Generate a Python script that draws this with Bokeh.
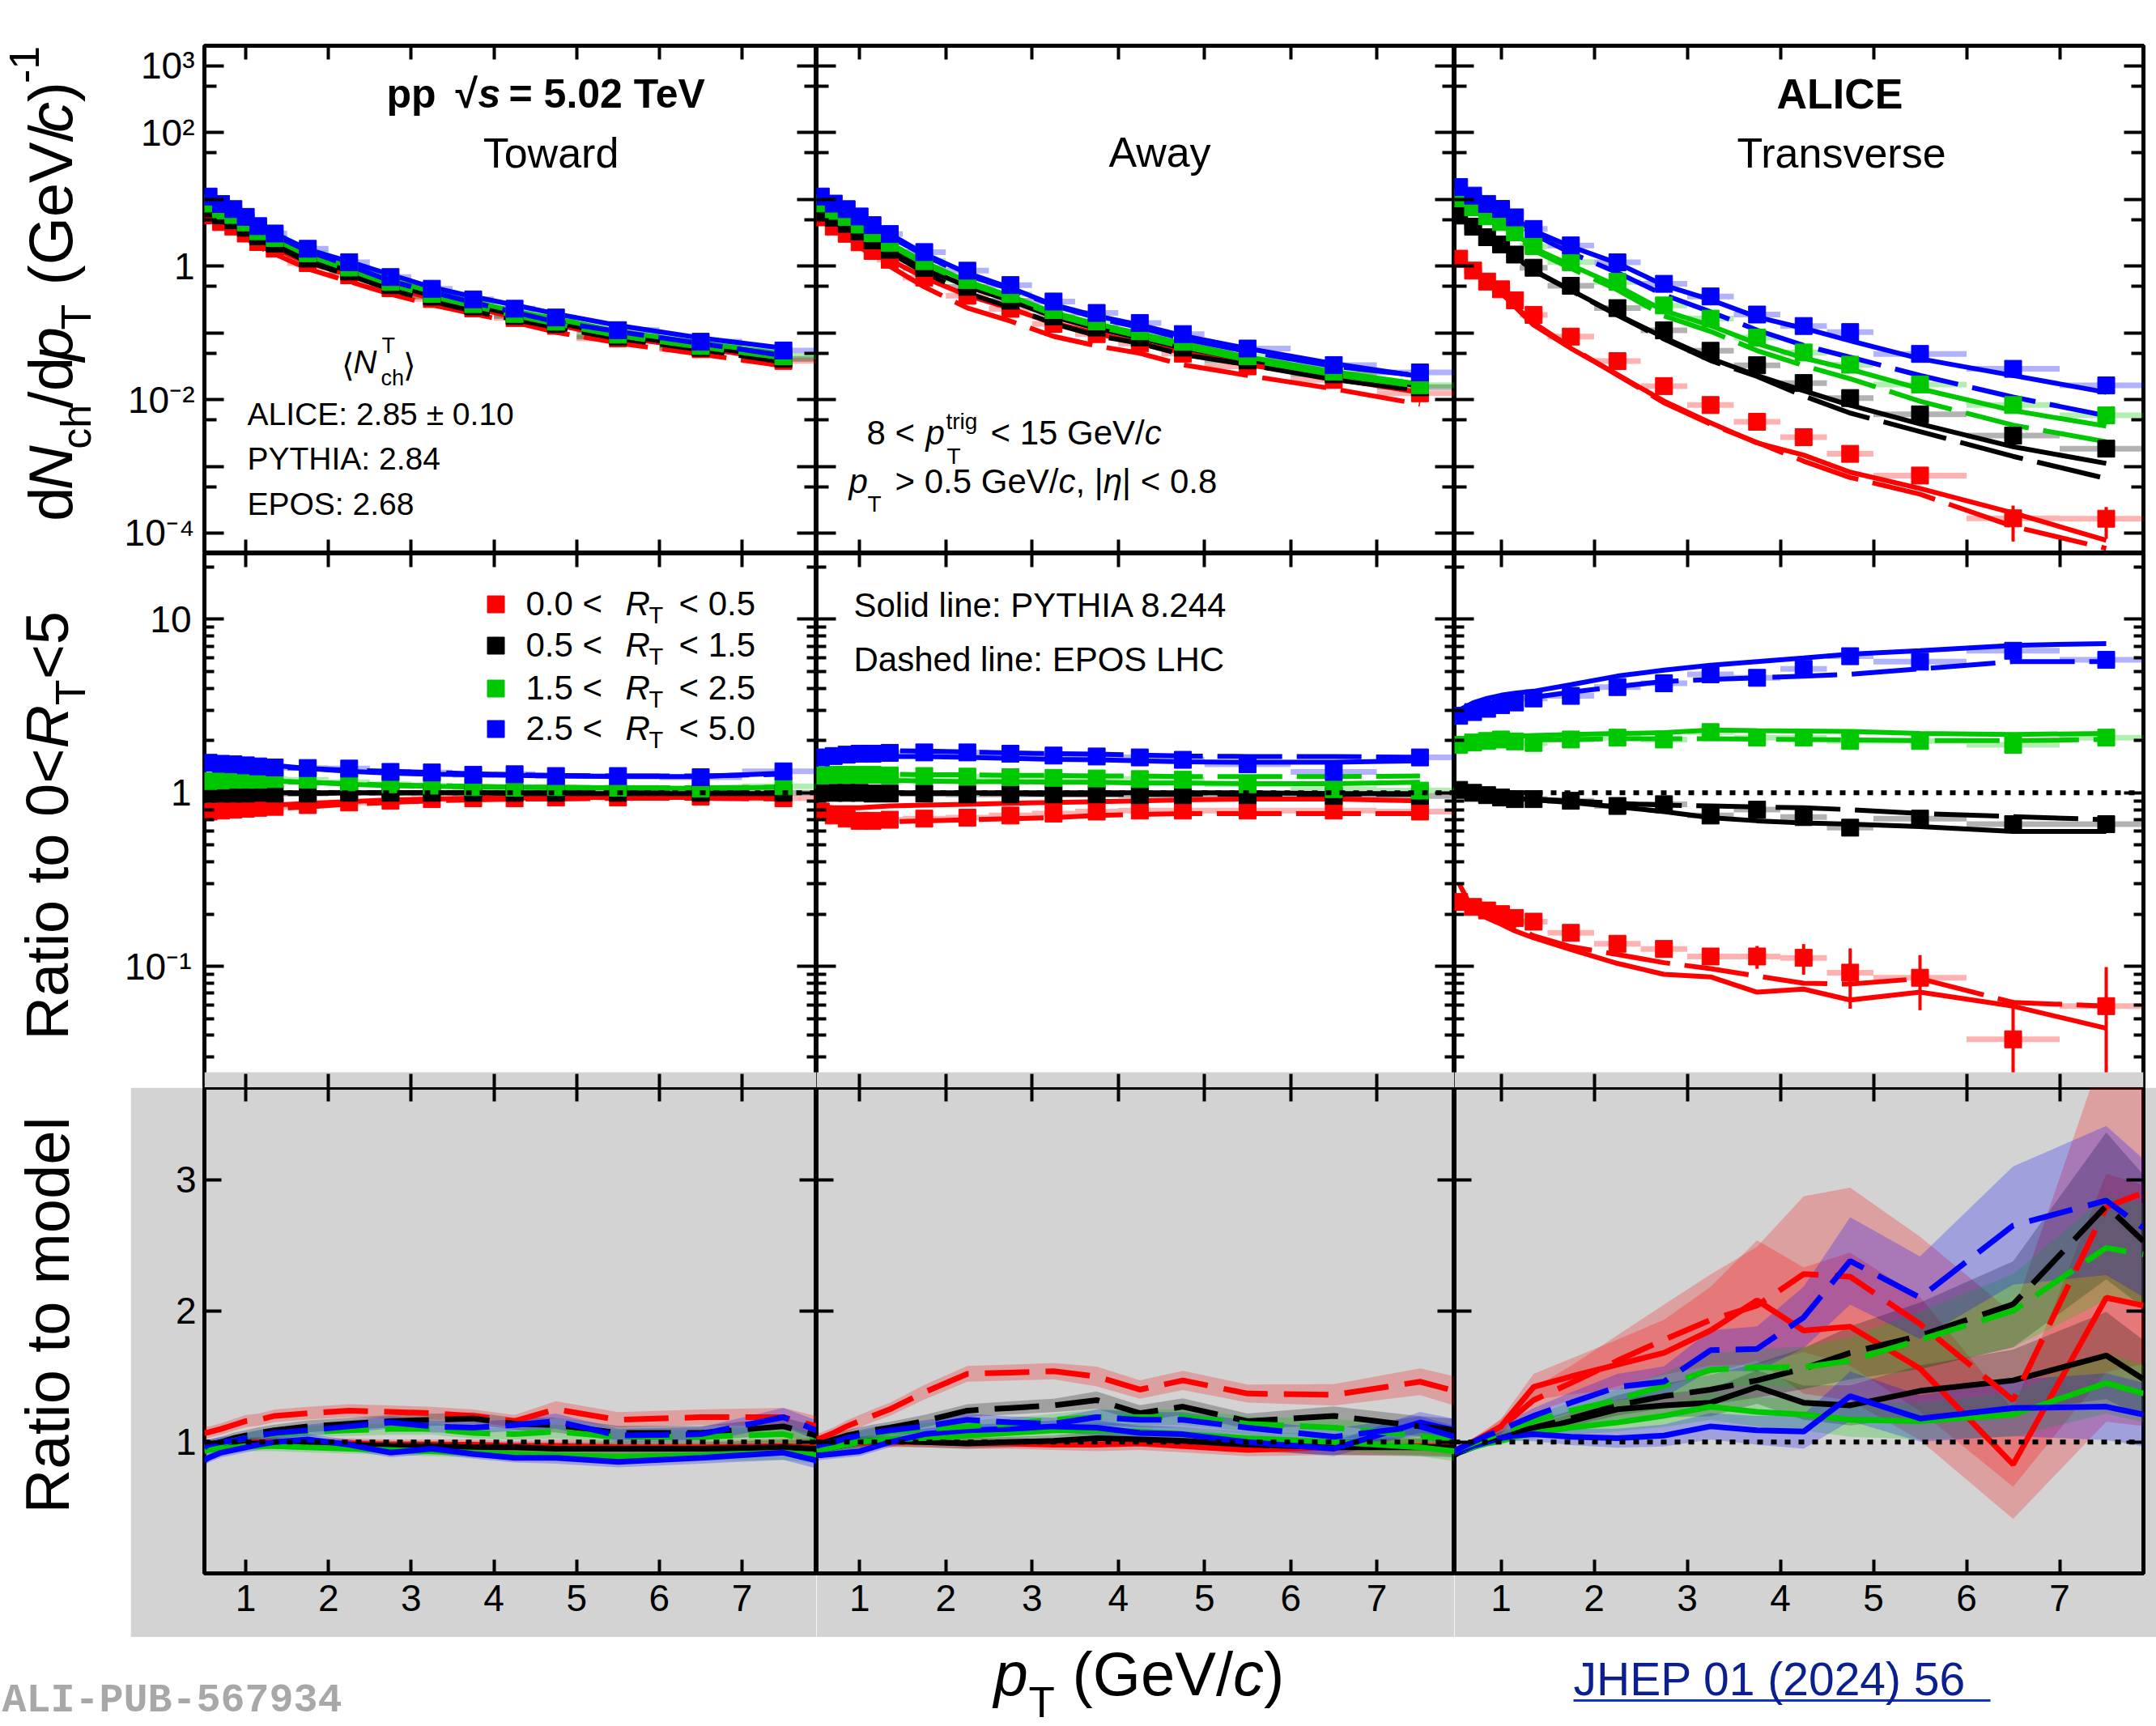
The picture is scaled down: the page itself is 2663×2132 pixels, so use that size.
import math
from bokeh.plotting import figure
from bokeh.layouts import column, row
from bokeh.models import (Range1d, LinearAxis, LogAxis, FixedTicker, Label, Span, BoxAnnotation,
                          LinearScale, CustomJSTickFormatter, ColumnDataSource)
from bokeh.embed import file_html
from bokeh.resources import INLINE

# ---------------------------------------------------------------- data
PT = [0.55, 0.7, 0.85, 1.0, 1.15, 1.35, 1.75, 2.25, 2.75, 3.25, 3.75, 4.25, 4.75, 5.5, 6.5, 7.5]
PT_HALF = [0.05, 0.1, 0.05, 0.1, 0.05, 0.15, 0.25, 0.25, 0.25, 0.25, 0.25, 0.25, 0.25, 0.5, 0.5, 0.5]
BOT_PT = [0.5, 0.55, 0.7, 0.85, 1.0, 1.15, 1.35, 1.75, 2.25, 2.75, 3.25, 3.75, 4.25, 4.75, 5.5, 6.5, 7.5, 7.9]
X_TICKS = [1, 2, 3, 4, 5, 6, 7]
TOP_YTICKS = [1e-4, 1e-3, 1e-2, 0.1, 1, 10, 100, 1000]
TOP_YMINOR = [5e-5, 5e-4, 5e-3, 0.05, 0.5, 5, 50, 500]
MID_YTICKS = [0.1, 1, 10]
MID_YMINOR = [0.03, 0.04, 0.05, 0.06, 0.07, 0.08, 0.09, 0.2, 0.3, 0.4, 0.5, 0.6, 0.7, 0.8, 0.9,
              2, 3, 4, 5, 6, 7, 8, 9, 20]
BOT_YTICKS = [1, 2, 3]
LEGEND_LO = ["0.0", "0.5", "1.5", "2.5"]
LEGEND_HI = ["0.5", "1.5", "2.5", "5.0"]

# reference (0 < R_T < 5) spectra, dN/dpT
TOW_REF = [7.4, 5.8, 4.9, 3.8, 2.8, 2.2, 1.31, 0.83, 0.52, 0.35, 0.25, 0.18, 0.136, 0.088, 0.060, 0.041]
AWA_REF = [6.9, 5.3, 4.3, 3.3, 2.45, 1.78, 0.95, 0.50, 0.31, 0.18, 0.123, 0.088, 0.062, 0.040, 0.025, 0.016]
TRA_REF = [5.5, 3.9, 2.8, 2.25, 1.62, 1.03, 0.565, 0.28, 0.127, 0.073, 0.041, 0.0245, 0.0168, 0.0085, 0.0044, 0.0028]

# data ratio to 0<R_T<5 (R0: 0-0.5, R1: 0.5-1.5, R2: 1.5-2.5, R3: 2.5-5)
TOW_MID_R0 = [0.78, 0.79, 0.80, 0.81, 0.82, 0.83, 0.85, 0.88, 0.90, 0.92, 0.93, 0.93, 0.94, 0.94, 0.95, 0.93]
TOW_MID_R1 = [0.99, 0.99, 0.99, 0.99, 1.00, 0.99, 0.99, 1.00, 1.00, 1.00, 1.00, 1.00, 1.00, 1.00, 1.00, 1.00]
TOW_MID_R2 = [1.17, 1.18, 1.19, 1.19, 1.19, 1.20, 1.19, 1.15, 1.12, 1.10, 1.08, 1.07, 1.08, 1.07, 1.06, 1.09]
TOW_MID_R3 = [1.49, 1.47, 1.46, 1.44, 1.42, 1.40, 1.39, 1.38, 1.32, 1.31, 1.27, 1.28, 1.25, 1.25, 1.23, 1.33]
AWA_MID_R0 = [0.78, 0.74, 0.71, 0.69, 0.69, 0.70, 0.71, 0.72, 0.74, 0.76, 0.78, 0.79, 0.79, 0.79, 0.79, 0.78]
AWA_MID_R1 = [1.00, 1.00, 1.00, 1.00, 0.99, 0.99, 0.99, 0.98, 0.98, 0.98, 0.98, 0.97, 0.97, 0.97, 0.96, 0.96]
AWA_MID_R2 = [1.26, 1.27, 1.27, 1.27, 1.27, 1.26, 1.25, 1.24, 1.23, 1.22, 1.21, 1.20, 1.19, 1.12, 1.05, 1.03]
AWA_MID_R3 = [1.60, 1.63, 1.66, 1.68, 1.68, 1.70, 1.71, 1.71, 1.68, 1.64, 1.62, 1.60, 1.55, 1.46, 1.32, 1.60]
TRA_MID_R0 = [0.235, 0.22, 0.21, 0.20, 0.19, 0.181, 0.156, 0.135, 0.126, 0.114, 0.114, 0.112, 0.092, 0.086, 0.038, 0.059]
TRA_MID_R1 = [1.04, 1.00, 0.97, 0.94, 0.92, 0.92, 0.90, 0.84, 0.86, 0.74, 0.80, 0.725, 0.63, 0.71, 0.66, 0.66]
TRA_MID_R2 = [1.89, 1.95, 1.99, 2.03, 1.98, 1.94, 2.03, 2.08, 2.03, 2.24, 2.08, 2.08, 1.99, 1.99, 1.89, 2.08]
TRA_MID_R3 = [2.78, 2.92, 3.05, 3.20, 3.32, 3.50, 3.62, 4.07, 4.28, 4.82, 4.60, 5.18, 6.13, 5.70, 6.59, 5.84]

# model ratio to 0<R_T<5 (P: PYTHIA 8.244, E: EPOS LHC)
TOW_MID_P_R0 = [0.80, 0.81, 0.82, 0.83, 0.84, 0.85, 0.87, 0.89, 0.91, 0.92, 0.93, 0.93, 0.94, 0.94, 0.94, 0.93]
TOW_MID_P_R1 = [1.01, 1.01, 1.00, 1.00, 1.00, 1.00, 1.00, 1.00, 1.00, 1.00, 1.00, 0.99, 0.99, 0.99, 0.99, 0.99]
TOW_MID_P_R2 = [1.20, 1.20, 1.20, 1.19, 1.18, 1.17, 1.15, 1.12, 1.10, 1.09, 1.08, 1.08, 1.07, 1.07, 1.06, 1.08]
TOW_MID_P_R3 = [1.55, 1.54, 1.52, 1.50, 1.47, 1.44, 1.38, 1.33, 1.30, 1.28, 1.27, 1.26, 1.25, 1.24, 1.24, 1.30]
TOW_MID_E_R0 = [0.76, 0.77, 0.78, 0.79, 0.80, 0.81, 0.83, 0.86, 0.88, 0.90, 0.91, 0.92, 0.92, 0.93, 0.93, 0.92]
TOW_MID_E_R1 = [0.98, 0.98, 0.98, 0.99, 0.99, 0.99, 0.99, 1.00, 1.00, 1.00, 1.00, 1.00, 1.00, 1.00, 1.00, 1.00]
TOW_MID_E_R2 = [1.18, 1.18, 1.18, 1.18, 1.17, 1.16, 1.15, 1.13, 1.11, 1.10, 1.09, 1.08, 1.08, 1.07, 1.07, 1.08]
TOW_MID_E_R3 = [1.50, 1.49, 1.47, 1.45, 1.43, 1.41, 1.38, 1.35, 1.33, 1.31, 1.29, 1.27, 1.26, 1.25, 1.25, 1.28]
AWA_MID_P_R0 = [0.83, 0.82, 0.82, 0.82, 0.83, 0.84, 0.85, 0.86, 0.87, 0.88, 0.89, 0.90, 0.91, 0.92, 0.92, 0.90]
AWA_MID_P_R1 = [1.00, 1.00, 1.00, 1.00, 1.00, 1.00, 1.00, 1.00, 1.00, 1.00, 1.00, 1.00, 1.00, 1.00, 0.99, 0.99]
AWA_MID_P_R2 = [1.20, 1.20, 1.19, 1.19, 1.18, 1.18, 1.17, 1.16, 1.16, 1.15, 1.15, 1.14, 1.14, 1.13, 1.13, 1.15]
AWA_MID_P_R3 = [1.53, 1.56, 1.58, 1.60, 1.61, 1.62, 1.62, 1.60, 1.58, 1.56, 1.55, 1.53, 1.51, 1.50, 1.50, 1.53]
AWA_MID_E_R0 = [0.74, 0.71, 0.69, 0.68, 0.68, 0.68, 0.69, 0.70, 0.71, 0.72, 0.74, 0.75, 0.76, 0.76, 0.76, 0.76]
AWA_MID_E_R1 = [0.99, 0.99, 0.99, 0.99, 0.99, 0.99, 0.99, 0.99, 0.99, 0.98, 0.98, 0.98, 0.98, 0.98, 0.98, 0.98]
AWA_MID_E_R2 = [1.26, 1.27, 1.27, 1.28, 1.28, 1.28, 1.27, 1.27, 1.26, 1.26, 1.25, 1.25, 1.24, 1.24, 1.24, 1.25]
AWA_MID_E_R3 = [1.70, 1.72, 1.74, 1.75, 1.75, 1.75, 1.74, 1.72, 1.70, 1.68, 1.67, 1.65, 1.63, 1.62, 1.62, 1.60]
TRA_MID_P_R0 = [0.30, 0.21, 0.19, 0.175, 0.16, 0.146, 0.125, 0.104, 0.090, 0.087, 0.071, 0.074, 0.064, 0.071, 0.059, 0.044]
TRA_MID_P_R1 = [1.06, 1.02, 0.98, 0.95, 0.93, 0.91, 0.88, 0.83, 0.78, 0.72, 0.69, 0.67, 0.66, 0.64, 0.60, 0.60]
TRA_MID_P_R2 = [1.95, 2.02, 2.06, 2.10, 2.12, 2.14, 2.17, 2.20, 2.22, 2.30, 2.28, 2.27, 2.26, 2.20, 2.17, 2.20]
TRA_MID_P_R3 = [3.00, 3.30, 3.50, 3.65, 3.75, 3.85, 4.20, 4.71, 5.10, 5.43, 5.70, 5.98, 6.30, 6.59, 7.08, 7.25]
TRA_MID_E_R0 = [0.25, 0.22, 0.20, 0.185, 0.17, 0.15, 0.13, 0.117, 0.105, 0.097, 0.088, 0.080, 0.079, 0.085, 0.062, 0.059]
TRA_MID_E_R1 = [1.04, 1.00, 0.97, 0.95, 0.93, 0.92, 0.90, 0.87, 0.85, 0.84, 0.83, 0.82, 0.80, 0.76, 0.73, 0.70]
TRA_MID_E_R2 = [1.85, 1.90, 1.95, 1.98, 2.00, 2.02, 2.03, 2.05, 2.05, 2.05, 2.04, 2.03, 2.02, 2.00, 2.00, 2.03]
TRA_MID_E_R3 = [2.70, 2.90, 3.10, 3.25, 3.40, 3.55, 3.80, 4.10, 4.38, 4.50, 4.60, 4.70, 4.82, 5.18, 5.70, 5.70]

# data / model (on BOT_PT)
TOW_BOT_P_R0 = [0.97, 0.97, 0.98, 0.99, 0.99, 1.00, 1.00, 0.99, 0.99, 0.98, 0.98, 0.98, 0.97, 0.97, 0.96, 0.96, 0.97, 0.96]
TOW_BOT_P_R1 = [0.95, 0.96, 0.97, 0.98, 0.99, 0.99, 0.99, 0.98, 0.98, 0.97, 0.97, 0.96, 0.96, 0.95, 0.95, 0.95, 0.96, 0.95]
TOW_BOT_P_R2 = [0.93, 0.94, 0.95, 0.96, 0.97, 0.97, 0.97, 0.96, 0.95, 0.94, 0.93, 0.92, 0.91, 0.90, 0.89, 0.90, 0.92, 0.90]
TOW_BOT_P_R3 = [0.86, 0.88, 0.92, 0.94, 0.96, 0.98, 1.00, 1.02, 0.98, 0.92, 0.95, 0.91, 0.88, 0.88, 0.85, 0.88, 0.92, 0.86]
TOW_BOT_E_R0 = [1.07, 1.075, 1.10, 1.13, 1.16, 1.17, 1.20, 1.22, 1.24, 1.23, 1.22, 1.20, 1.16, 1.25, 1.17, 1.19, 1.19, 1.12]
TOW_BOT_E_R1 = [0.97, 0.98, 1.00, 1.03, 1.05, 1.07, 1.09, 1.12, 1.14, 1.16, 1.17, 1.18, 1.14, 1.13, 1.07, 1.07, 1.12, 1.05]
TOW_BOT_E_R2 = [0.96, 0.97, 0.99, 1.01, 1.03, 1.05, 1.06, 1.08, 1.09, 1.10, 1.10, 1.07, 1.06, 1.08, 1.04, 1.04, 1.06, 1.00]
TOW_BOT_E_R3 = [0.96, 0.98, 1.00, 1.01, 1.03, 1.05, 1.07, 1.09, 1.12, 1.15, 1.12, 1.11, 1.13, 1.16, 1.05, 1.06, 1.19, 1.09]
AWA_BOT_P_R0 = [0.97, 0.97, 0.98, 0.99, 0.99, 1.00, 1.00, 1.00, 0.99, 0.99, 0.98, 0.98, 0.99, 0.97, 0.94, 0.96, 0.97, 0.97]
AWA_BOT_P_R1 = [0.93, 0.94, 0.96, 0.98, 1.00, 1.01, 1.01, 1.00, 0.99, 1.00, 1.01, 1.03, 1.02, 1.01, 0.98, 0.96, 0.96, 0.96]
AWA_BOT_P_R2 = [0.93, 0.94, 0.96, 0.98, 1.00, 1.01, 1.02, 1.03, 1.05, 1.07, 1.09, 1.09, 1.08, 1.06, 1.03, 1.00, 0.96, 0.93]
AWA_BOT_P_R3 = [0.90, 0.90, 0.91, 0.92, 0.93, 0.96, 1.00, 1.06, 1.09, 1.10, 1.12, 1.11, 1.07, 1.06, 1.00, 0.95, 1.15, 1.09]
AWA_BOT_E_R0 = [1.02, 1.03, 1.07, 1.12, 1.16, 1.20, 1.25, 1.38, 1.52, 1.53, 1.54, 1.50, 1.40, 1.47, 1.37, 1.36, 1.46, 1.39]
AWA_BOT_E_R1 = [0.98, 0.99, 1.02, 1.05, 1.07, 1.09, 1.11, 1.16, 1.24, 1.26, 1.28, 1.32, 1.22, 1.27, 1.16, 1.20, 1.12, 1.09]
AWA_BOT_E_R2 = [0.97, 0.98, 1.00, 1.02, 1.04, 1.06, 1.08, 1.10, 1.12, 1.14, 1.17, 1.19, 1.19, 1.19, 1.14, 1.11, 1.05, 1.01]
AWA_BOT_E_R3 = [0.97, 0.98, 1.00, 1.03, 1.05, 1.07, 1.09, 1.12, 1.17, 1.15, 1.14, 1.19, 1.17, 1.17, 1.11, 1.04, 1.12, 1.04]
TRA_BOT_P_R0 = [0.93, 0.95, 1.00, 1.06, 1.12, 1.25, 1.42, 1.50, 1.59, 1.68, 1.85, 2.08, 1.85, 1.88, 1.56, 0.83, 2.10, 2.04]
TRA_BOT_P_R1 = [0.90, 0.92, 0.96, 1.00, 1.03, 1.06, 1.09, 1.16, 1.25, 1.28, 1.30, 1.42, 1.30, 1.28, 1.39, 1.47, 1.66, 1.48]
TRA_BOT_P_R2 = [0.92, 0.93, 0.96, 0.99, 1.01, 1.04, 1.07, 1.11, 1.15, 1.20, 1.27, 1.23, 1.21, 1.17, 1.16, 1.21, 1.45, 1.37]
TRA_BOT_P_R3 = [0.92, 0.93, 0.97, 1.00, 1.03, 1.05, 1.06, 1.04, 1.03, 1.05, 1.12, 1.09, 1.08, 1.35, 1.18, 1.26, 1.27, 1.21]
TRA_BOT_E_R0 = [0.93, 0.95, 1.00, 1.05, 1.12, 1.20, 1.32, 1.45, 1.62, 1.78, 1.93, 2.04, 2.28, 2.26, 1.90, 1.32, 2.79, 2.90]
TRA_BOT_E_R1 = [0.93, 0.95, 0.99, 1.02, 1.05, 1.08, 1.11, 1.18, 1.28, 1.35, 1.40, 1.47, 1.56, 1.68, 1.81, 2.05, 2.80, 2.53]
TRA_BOT_E_R2 = [0.93, 0.95, 0.99, 1.03, 1.07, 1.11, 1.16, 1.24, 1.32, 1.43, 1.55, 1.57, 1.57, 1.62, 1.78, 2.00, 2.48, 2.43]
TRA_BOT_E_R3 = [0.93, 0.95, 1.00, 1.05, 1.09, 1.14, 1.20, 1.30, 1.42, 1.46, 1.70, 1.71, 1.95, 2.38, 2.10, 2.65, 2.84, 2.63]

# relative uncertainty bands of the data/model ratios
BAND_TOW = [0.05, 0.04, 0.04, 0.04, 0.04, 0.04, 0.04, 0.04, 0.04, 0.04, 0.04, 0.04, 0.04, 0.05, 0.05, 0.05, 0.06, 0.07]
BAND_AWA = [0.05, 0.04, 0.04, 0.04, 0.04, 0.04, 0.04, 0.04, 0.04, 0.04, 0.04, 0.05, 0.05, 0.05, 0.05, 0.06, 0.07, 0.08]
BAND_TRA_R0 = [0.03, 0.03, 0.03, 0.04, 0.05, 0.06, 0.07, 0.09, 0.12, 0.15, 0.18, 0.22, 0.26, 0.30, 0.35, 0.50, 0.45, 0.45]
BAND_TRA_R1 = [0.02, 0.02, 0.02, 0.02, 0.03, 0.03, 0.04, 0.05, 0.06, 0.07, 0.08, 0.09, 0.10, 0.12, 0.14, 0.16, 0.20, 0.20]
BAND_TRA_R2 = [0.02, 0.02, 0.02, 0.02, 0.03, 0.03, 0.04, 0.05, 0.06, 0.07, 0.08, 0.09, 0.10, 0.11, 0.12, 0.14, 0.16, 0.16]
BAND_TRA_R3 = [0.03, 0.03, 0.03, 0.03, 0.03, 0.04, 0.05, 0.06, 0.07, 0.08, 0.09, 0.10, 0.12, 0.14, 0.15, 0.17, 0.20, 0.20]

# relative statistical errors of the transverse points
TRA_TOP_ERR_R0 = [0, 0, 0, 0, 0, 0, 0, 0, 0.03, 0.05, 0.07, 0.10, 0.15, 0.20, 0.55, 0.50]
TRA_MID_ERR_R0 = [0, 0, 0, 0, 0, 0, 0, 0, 0.04, 0.10, 0.15, 0.20, 0.38, 0.35, 0.68, 0.68]
TRA_MID_ERR_HI = [0, 0, 0, 0, 0, 0, 0, 0, 0, 0, 0, 0, 0.02, 0.03, 0.05, 0.07]

# ---------------------------------------------------------------- style
FONT = "Liberation Sans"
MONO = "Liberation Mono"
COLORS = ["#ff0000", "#000000", "#00c800", "#0000ff"]
GREY = "#d3d3d3"
DASH_TOP = "80 18"
DASH_BOT = "55 20"
# Bokeh anchors a Label at the centre of the font box; shift to put the baseline where wanted
CENTER_SHIFT = {FONT: 0.3465, MONO: 0.2665}

CW = {' ': 278, '(': 333, ')': 333, '+': 584, ',': 278, '-': 333, '.': 278, '/': 278, ':': 278,
      '<': 584, '=': 584, '>': 584, '|': 260, '±': 549, '√': 549, '⟨': 333, '⟩': 333, 'η': 556,
      'A': 667, 'B': 667, 'C': 722, 'D': 722, 'E': 667, 'F': 611, 'G': 778, 'H': 722, 'I': 278,
      'J': 500, 'K': 667, 'L': 556, 'M': 833, 'N': 722, 'O': 778, 'P': 667, 'Q': 778, 'R': 722,
      'S': 667, 'T': 611, 'U': 722, 'V': 667, 'W': 944, 'X': 667, 'Y': 667, 'Z': 611,
      'a': 556, 'b': 556, 'c': 500, 'd': 556, 'e': 556, 'f': 278, 'g': 556, 'h': 556, 'i': 222,
      'j': 222, 'k': 500, 'l': 222, 'm': 833, 'n': 556, 'o': 556, 'p': 556, 'q': 556, 'r': 333,
      's': 500, 't': 278, 'u': 556, 'v': 500, 'w': 722, 'x': 500, 'y': 500, 'z': 500}
BW = {'A': 722, 'L': 611, 'p': 611, 's': 556}


def tw(s, size, bold=False):
    tot = 0
    for ch in s:
        if bold and ch in BW:
            tot += BW[ch]
        else:
            tot += CW.get(ch, 556)
    return tot * size / 1000.0


def text(p, x, y, s, size, style="normal", align="left", color="black", angle=0.0,
         px=True, font=FONT):
    kw = dict(x_range_name="px", y_range_name="px") if px else {}
    sh = CENTER_SHIFT.get(font, 0.3465) * size
    if angle == 0.0:
        y = y - sh
    else:
        x = x - sh
    p.add_layout(Label(x=x, y=y, text=s, text_font=font, text_font_size=f"{size}px",
                       text_font_style=style, text_align=align, text_baseline="alphabetic",
                       text_color=color, angle=angle, **kw))


def rich(p, x, y, pieces, px=True):
    cx = x
    for pc in pieces:
        s, size, style, dy = pc[0], pc[1], pc[2], pc[3]
        if len(pc) > 4 and pc[4] is not None:
            cx = pc[4]
        text(p, cx, y + dy, s, size, style, px=px)
        cx += tw(s, size, "bold" in style)


def rich_v(p, x, y, pieces):
    cy = y
    for pc in pieces:
        s, size, style, dx = pc[0], pc[1], pc[2], pc[3]
        gap = pc[4] if len(pc) > 4 else 0
        cy -= gap
        text(p, x + dx, cy, s, size, style, angle=math.pi / 2, px=False)
        cy -= tw(s, size, "bold" in style)


def hide_labels(ax):
    ax.formatter = CustomJSTickFormatter(code="return '';")
    ax.major_label_text_font_size = "0px"
    ax.major_label_standoff = 0


def tick_style(ax, maj, mn):
    ax.axis_line_color = None
    ax.major_tick_in = maj
    ax.major_tick_out = 0
    ax.minor_tick_in = mn
    ax.minor_tick_out = 0
    ax.major_tick_line_width = 4
    ax.minor_tick_line_width = 4
    ax.major_tick_line_color = "black"
    ax.minor_tick_line_color = "black"


def panel(w, h, yr, ylog, bl, br, bt, bb, frame, fill="white"):
    p = figure(width=w, height=h, x_range=Range1d(0.5, 7.9), y_range=Range1d(*yr),
               y_axis_type=("log" if ylog else "linear"),
               x_axis_location=None, y_axis_location=None,
               output_backend="svg", toolbar_location=None,
               min_border_left=bl, min_border_right=br, min_border_top=bt, min_border_bottom=bb,
               background_fill_color=fill, border_fill_color=fill)
    p.grid.visible = False
    L, R, T, B = frame
    p.extra_x_ranges = {"px": Range1d(L, R)}
    p.extra_y_ranges = {"px": Range1d(B, T)}
    p.extra_x_scales = {"px": LinearScale()}
    p.extra_y_scales = {"px": LinearScale()}
    p.outline_line_color = "black"
    p.outline_line_width = 5
    p.outline_line_alpha = 1.0
    return p


def axes(p, yticks, yminor, ymaj, ymin, ylog, yfmt=None, ylabels=False, xlabels=False, ystand=12):
    for loc in ("below", "above"):
        ax = LinearAxis(ticker=FixedTicker(ticks=X_TICKS, minor_ticks=[]))
        tick_style(ax, 17, 0)
        if loc == "below" and xlabels:
            ax.major_label_text_font = FONT
            ax.major_label_text_font_size = "46px"
            ax.major_label_text_color = "black"
            ax.major_label_standoff = 14
        else:
            hide_labels(ax)
        p.add_layout(ax, loc)
    for loc in ("left", "right"):
        tk = FixedTicker(ticks=yticks, minor_ticks=yminor)
        ax = LogAxis(ticker=tk) if ylog else LinearAxis(ticker=tk)
        tick_style(ax, ymaj, ymin)
        if loc == "left" and ylabels:
            if yfmt is not None:
                ax.formatter = CustomJSTickFormatter(code=yfmt)
            ax.major_label_text_font = FONT
            ax.major_label_text_font_size = "46px"
            ax.major_label_text_color = "black"
            ax.major_label_standoff = ystand
        else:
            hide_labels(ax)
        p.add_layout(ax, loc)


TOP_FMT = ("const k = Math.round(Math.log10(tick));"
           "const m = {'3':'10\u00b3','2':'10\u00b2','0':'1','-2':'10\u207b\u00b2','-4':'10\u207b\u2074'};"
           "const s = String(k); return (s in m) ? m[s] : '';")
MID_FMT = ("const k = Math.round(Math.log10(tick));"
           "const m = {'1':'10','0':'1','-1':'10\u207b\u00b9'};"
           "const s = String(k); return (s in m) ? m[s] : '';")


def light_bars(p, ys, col):
    src = ColumnDataSource(dict(x0=[x - h for x, h in zip(PT, PT_HALF)],
                                x1=[x + h for x, h in zip(PT, PT_HALF)], y=ys))
    p.segment(x0="x0", y0="y", x1="x1", y1="y", source=src, line_color=col,
              line_alpha=0.3, line_width=7)


def err_bars(p, ys, errs, col):
    xs, lo, hi = [], [], []
    for x, y, e in zip(PT, ys, errs):
        if e > 0:
            xs.append(x)
            lo.append(y * (1 - e))
            hi.append(y * (1 + e))
    if xs:
        p.segment(x0=xs, y0=lo, x1=xs, y1=hi, line_color=col, line_width=4)


def draw_points(p, vals, pyth, epos, errs=None):
    for k in range(4):
        light_bars(p, vals[k], COLORS[k])
    for k in range(4):
        p.line(PT, pyth[k], line_color=COLORS[k], line_width=6)
        p.line(PT, epos[k], line_color=COLORS[k], line_width=6, line_dash=DASH_TOP)
    for k in range(4):
        p.scatter(PT, vals[k], marker="square", size=21, fill_color=COLORS[k],
                  line_color=COLORS[k])
        if errs is not None and errs[k] is not None:
            err_bars(p, vals[k], errs[k], COLORS[k])


def draw_top(p, ref, mids, bp, be, errs=None):
    vals, pyth, epos = [], [], []
    for k in range(4):
        d = [r * m for r, m in zip(ref, mids[k])]
        vals.append(d)
        pyth.append([v / b for v, b in zip(d, bp[k][1:17])])
        epos.append([v / b for v, b in zip(d, be[k][1:17])])
    draw_points(p, vals, pyth, epos, errs)


def draw_bottom(p, bp, be, bands):
    for k in range(4):
        for arr in (bp[k], be[k]):
            p.varea(x=BOT_PT, y1=[v * (1 - b) for v, b in zip(arr, bands[k])],
                    y2=[v * (1 + b) for v, b in zip(arr, bands[k])],
                    fill_color=COLORS[k], fill_alpha=0.24)
    for k in range(4):
        p.line(BOT_PT, bp[k], line_color=COLORS[k], line_width=7)
    for k in range(4):
        p.line(BOT_PT, be[k], line_color=COLORS[k], line_width=7, line_dash=DASH_BOT)


def unity(p):
    p.add_layout(Span(location=1, dimension="width", line_color="black",
                      line_width=6, line_dash="7 10"))


# ---------------------------------------------------------------- geometry
C1, C2, C3 = (252, 1008), (1008, 1796), (1796, 2647)
R1, R2, R3 = (56, 683), (683, 1343), (1343, 1943)
TOP_YR = (5e-5, 2000)
MID_YR = (0.02, 24)
BOT_YR = (0.0, 3.7)

# ---------------------------------------------------------------- top row
f11 = panel(878, 683, TOP_YR, True, 122, 0, 56, 0, (C1[0], C1[1], R1[0], R1[1]))
f12 = panel(788, 683, TOP_YR, True, 0, 0, 56, 0, (C2[0], C2[1], R1[0], R1[1]))
f13 = panel(867, 683, TOP_YR, True, 0, 16, 56, 0, (C3[0], C3[1], R1[0], R1[1]))
axes(f11, TOP_YTICKS, TOP_YMINOR, 24, 15, True, TOP_FMT, ylabels=True, ystand=12)
axes(f12, TOP_YTICKS, TOP_YMINOR, 24, 15, True)
axes(f13, TOP_YTICKS, TOP_YMINOR, 24, 15, True)

draw_top(f11, TOW_REF, [TOW_MID_R0, TOW_MID_R1, TOW_MID_R2, TOW_MID_R3],
         [TOW_BOT_P_R0, TOW_BOT_P_R1, TOW_BOT_P_R2, TOW_BOT_P_R3],
         [TOW_BOT_E_R0, TOW_BOT_E_R1, TOW_BOT_E_R2, TOW_BOT_E_R3])
draw_top(f12, AWA_REF, [AWA_MID_R0, AWA_MID_R1, AWA_MID_R2, AWA_MID_R3],
         [AWA_BOT_P_R0, AWA_BOT_P_R1, AWA_BOT_P_R2, AWA_BOT_P_R3],
         [AWA_BOT_E_R0, AWA_BOT_E_R1, AWA_BOT_E_R2, AWA_BOT_E_R3])
draw_top(f13, TRA_REF, [TRA_MID_R0, TRA_MID_R1, TRA_MID_R2, TRA_MID_R3],
         [TRA_BOT_P_R0, TRA_BOT_P_R1, TRA_BOT_P_R2, TRA_BOT_P_R3],
         [TRA_BOT_E_R0, TRA_BOT_E_R1, TRA_BOT_E_R2, TRA_BOT_E_R3],
         errs=[TRA_TOP_ERR_R0, None, None, None])

rich(f11, 477, 133, [("pp", 50, "bold", 0), ("\u221a", 50, "bold", 0, 562),
                     ("s", 50, "bold italic", 0, 590), ("= 5.02 TeV", 50, "bold", 0, 628)])
text(f11, 680, 207, "Toward", 52, align="center")
rich(f11, 421, 464, [("\u27e8", 40, "normal", 0), ("N", 40, "italic", -4, 436),
                     ("T", 27, "normal", -28, 471), ("ch", 27, "normal", 12, 470),
                     ("\u27e9", 40, "normal", 0, 497)])
text(f11, 305, 525, "ALICE: 2.85 \u00b1 0.10", 39)
text(f11, 305, 580, "PYTHIA: 2.84", 39)
text(f11, 305, 636, "EPOS: 2.68", 39)

text(f12, 1432, 206, "Away", 52, align="center")
rich(f12, 1070, 549, [("8 <", 42, "normal", 0), ("p", 42, "italic", 0, 1143),
                      ("trig", 28, "normal", -19, 1168), ("T", 28, "normal", 24, 1169),
                      ("< 15 GeV/", 42, "normal", 0, 1223), ("c", 42, "italic", 0)])
rich(f12, 1048, 609, [("p", 42, "italic", 0), ("T", 28, "normal", 23, 1071),
                      ("> 0.5 GeV/", 42, "normal", 0, 1105), ("c", 42, "italic", 0),
                      (", |", 42, "normal", 0), ("\u03b7", 42, "italic", 0),
                      ("| < 0.8", 42, "normal", 0)])

text(f13, 2272, 134, "ALICE", 52, style="bold", align="center")
text(f13, 2274, 207, "Transverse", 52, align="center")

# ---------------------------------------------------------------- middle row
f21 = panel(878, 660, MID_YR, True, 122, 0, 0, 0, (C1[0], C1[1], R2[0], R2[1]))
f22 = panel(788, 660, MID_YR, True, 0, 0, 0, 0, (C2[0], C2[1], R2[0], R2[1]))
f23 = panel(867, 660, MID_YR, True, 0, 16, 0, 0, (C3[0], C3[1], R2[0], R2[1]))
axes(f21, MID_YTICKS, MID_YMINOR, 24, 12, True, MID_FMT, ylabels=True, ystand=16)
axes(f22, MID_YTICKS, MID_YMINOR, 24, 12, True)
axes(f23, MID_YTICKS, MID_YMINOR, 24, 12, True)
for f in (f21, f22, f23):
    unity(f)

draw_points(f21, [TOW_MID_R0, TOW_MID_R1, TOW_MID_R2, TOW_MID_R3],
            [TOW_MID_P_R0, TOW_MID_P_R1, TOW_MID_P_R2, TOW_MID_P_R3],
            [TOW_MID_E_R0, TOW_MID_E_R1, TOW_MID_E_R2, TOW_MID_E_R3])
draw_points(f22, [AWA_MID_R0, AWA_MID_R1, AWA_MID_R2, AWA_MID_R3],
            [AWA_MID_P_R0, AWA_MID_P_R1, AWA_MID_P_R2, AWA_MID_P_R3],
            [AWA_MID_E_R0, AWA_MID_E_R1, AWA_MID_E_R2, AWA_MID_E_R3])
draw_points(f23, [TRA_MID_R0, TRA_MID_R1, TRA_MID_R2, TRA_MID_R3],
            [TRA_MID_P_R0, TRA_MID_P_R1, TRA_MID_P_R2, TRA_MID_P_R3],
            [TRA_MID_E_R0, TRA_MID_E_R1, TRA_MID_E_R2, TRA_MID_E_R3],
            errs=[TRA_MID_ERR_R0, TRA_MID_ERR_HI, TRA_MID_ERR_HI, TRA_MID_ERR_HI])

# grey strip of the lower pad that overlaps the bottom of the middle pads
for f in (f21, f22, f23):
    f.add_layout(BoxAnnotation(top=1324, bottom=1343, y_range_name="px", fill_color=GREY,
                               fill_alpha=1.0, line_color=None, level="glyph"))

LEG_Y = [746, 797, 850, 900]
f21.scatter([612] * 4, LEG_Y, marker="square", size=21, fill_color=COLORS, line_color=COLORS,
            x_range_name="px", y_range_name="px")
for y, lo, hi in zip(LEG_Y, LEGEND_LO, LEGEND_HI):
    rich(f21, 649, y + 14, [(f"{lo} <", 42, "normal", 0), ("R", 42, "italic", 0, 772),
                            ("T", 29, "normal", 10, 801), (f"< {hi}", 42, "normal", 0, 838)])
text(f22, 1054, 762, "Solid line: PYTHIA 8.244", 42)
text(f22, 1054, 829, "Dashed line: EPOS LHC", 42)

# ---------------------------------------------------------------- bottom row
f31 = panel(847, 679, BOT_YR, False, 91, 0, 0, 79, (C1[0], C1[1], R3[0], R3[1]), fill=GREY)
f32 = panel(788, 679, BOT_YR, False, 0, 0, 0, 79, (C2[0], C2[1], R3[0], R3[1]), fill=GREY)
f33 = panel(867, 679, BOT_YR, False, 0, 16, 0, 79, (C3[0], C3[1], R3[0], R3[1]), fill=GREY)
axes(f31, BOT_YTICKS, [], 21, 0, False, None, ylabels=True, xlabels=True, ystand=10)
axes(f32, BOT_YTICKS, [], 21, 0, False, xlabels=True)
axes(f33, BOT_YTICKS, [], 21, 0, False, xlabels=True)

draw_bottom(f31, [TOW_BOT_P_R0, TOW_BOT_P_R1, TOW_BOT_P_R2, TOW_BOT_P_R3],
            [TOW_BOT_E_R0, TOW_BOT_E_R1, TOW_BOT_E_R2, TOW_BOT_E_R3],
            [BAND_TOW, BAND_TOW, BAND_TOW, BAND_TOW])
draw_bottom(f32, [AWA_BOT_P_R0, AWA_BOT_P_R1, AWA_BOT_P_R2, AWA_BOT_P_R3],
            [AWA_BOT_E_R0, AWA_BOT_E_R1, AWA_BOT_E_R2, AWA_BOT_E_R3],
            [BAND_AWA, BAND_AWA, BAND_AWA, BAND_AWA])
draw_bottom(f33, [TRA_BOT_P_R0, TRA_BOT_P_R1, TRA_BOT_P_R2, TRA_BOT_P_R3],
            [TRA_BOT_E_R0, TRA_BOT_E_R1, TRA_BOT_E_R2, TRA_BOT_E_R3],
            [BAND_TRA_R0, BAND_TRA_R1, BAND_TRA_R2, BAND_TRA_R3])
for f in (f31, f32, f33):
    unity(f)


# ---------------------------------------------------------------- title strips
def strip(w, h, y0, y1):
    p = figure(width=w, height=h, x_range=(0, w), y_range=(y1, y0),
               x_axis_location=None, y_axis_location=None, min_border=0,
               output_backend="svg", toolbar_location=None,
               background_fill_color="white", border_fill_color="white")
    p.grid.visible = False
    p.outline_line_color = None
    return p


c0t = strip(130, 683, 0, 683)
c0m = strip(130, 660, 683, 1343)
c0b = strip(161, 679, 1343, 2022)
rich_v(c0t, 88, 640, [("d", 76, "normal", 0), ("N", 76, "italic", 0), ("ch", 52, "normal", 24),
                      ("/d", 76, "normal", 0), ("p", 76, "italic", 0), ("T", 52, "normal", 24),
                      ("(GeV/", 76, "normal", 0, 28), ("c", 76, "italic", 0, 7),
                      (")", 76, "normal", 0, 3), ("-1", 52, "normal", -40)])
rich_v(c0m, 84, 1284, [("Ratio to 0<", 74, "normal", 0), ("R", 74, "italic", 0),
                       ("T", 52, "normal", 21), ("<5", 74, "normal", 0)])
text(c0b, 84, 1661, "Ratio to model", 76, align="center", angle=math.pi / 2, px=False)

ft = figure(width=2663, height=110, x_range=(0, 2663), y_range=(2132, 2022),
            x_axis_location=None, y_axis_location=None, min_border=0,
            output_backend="svg", toolbar_location=None,
            background_fill_color="white", border_fill_color="white")
ft.grid.visible = False
ft.outline_line_color = None
rich(ft, 1227, 2093, [("p", 76, "italic", 0), ("T", 53, "normal", 27, 1270),
                      ("(GeV/", 76, "normal", 0, 1324), ("c", 76, "italic", 0),
                      (")", 76, "normal", 0)], px=False)
text(ft, 1943, 2093, "JHEP 01 (2024) 56", 57, color="#0b1f8f", px=False)
ft.segment(x0=[1943], y0=[2100], x1=[2458], y1=[2100], line_color="#1030d0", line_width=3)
text(ft, 2, 2113, "ALI-PUB-567934", 50, style="bold", color="#a8a8a8", px=False, font=MONO)

layout = column(row(c0t, f11, f12, f13), row(c0m, f21, f22, f23), row(c0b, f31, f32, f33), ft)

with open("out.html", "w", encoding="utf-8") as fh:
    fh.write(file_html(layout, INLINE))
